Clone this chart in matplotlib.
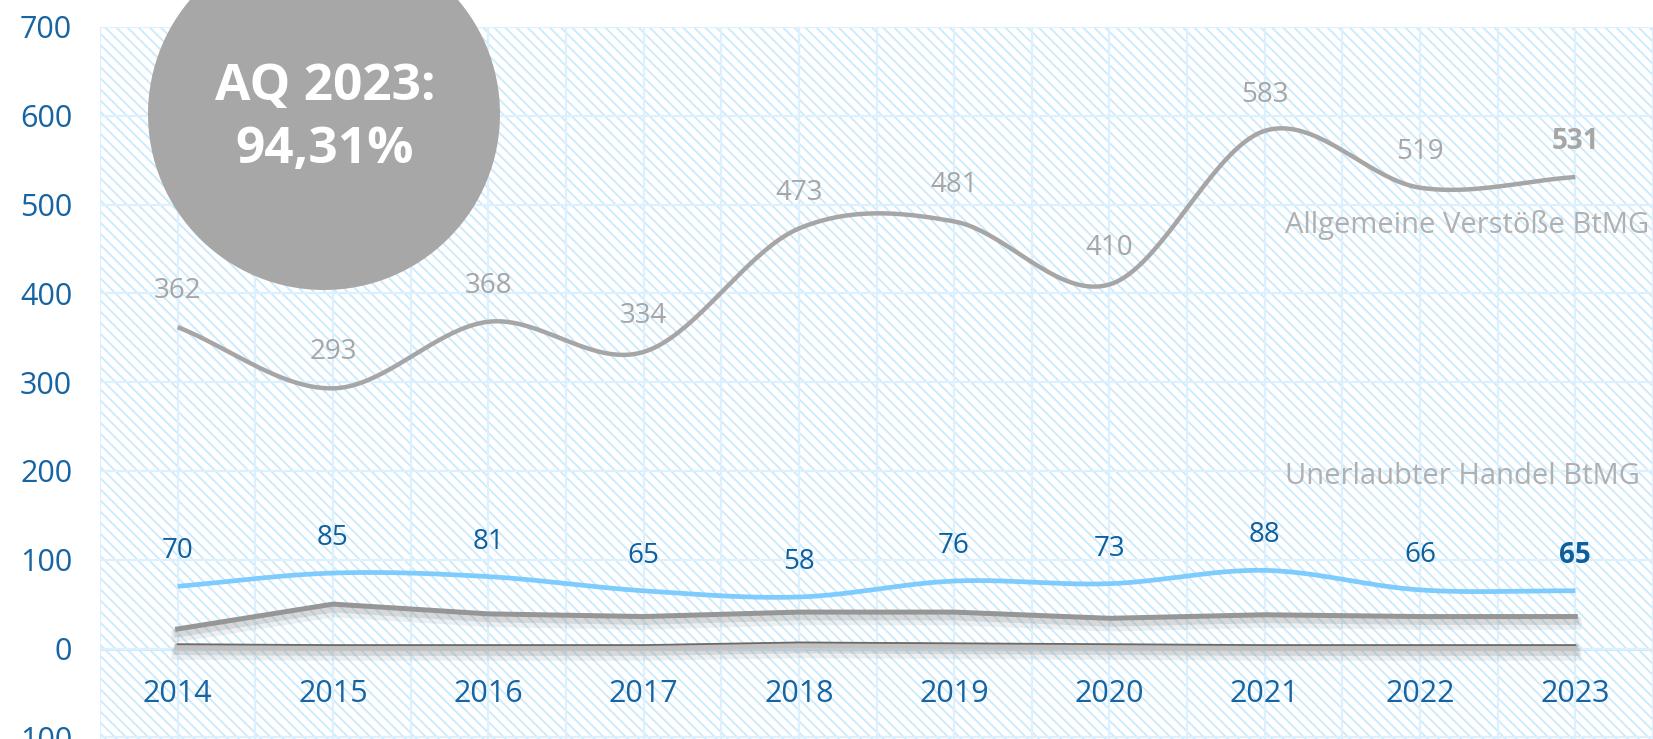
import numpy as np
import matplotlib
matplotlib.use("Agg")
import matplotlib.pyplot as plt
import matplotlib.patheffects as pe
from matplotlib.patches import Rectangle, Ellipse

# data
years = [2014, 2015, 2016, 2017, 2018, 2019, 2020, 2021, 2022, 2023]
allgemein = [362, 293, 368, 334, 473, 481, 410, 583, 519, 531]
handel = [70, 85, 81, 65, 58, 76, 73, 88, 66, 65]
sonstige = [22, 50, 39, 36, 41, 41, 34, 38, 36, 36]
klein = [2, 1, 1, 1, 4, 3, 2, 1, 1, 1]
y_ticks = [-100, 0, 100, 200, 300, 400, 500, 600, 700]
y_labels = ["100", "0", "100", "200", "300", "400", "500", "600", "700"]

W, H = 1653, 739
BLUE_TXT = "#1764a3"
GRAY = "#a6a6a6"

plt.rcParams["font.family"] = ["Open Sans", "DejaVu Sans"]
plt.rcParams["hatch.linewidth"] = 1.3


def catmull_rom(x, y, n=40):
    # smooth drawing path through the given points
    x = np.asarray(x, float)
    y = np.asarray(y, float)
    px = np.concatenate([[2 * x[0] - x[1]], x, [2 * x[-1] - x[-2]]])
    py = np.concatenate([[2 * y[0] - y[1]], y, [2 * y[-1] - y[-2]]])
    xs, ys = [], []
    t = np.linspace(0, 1, n, endpoint=False)
    for i in range(1, len(px) - 2):
        for p, out in ((px, xs), (py, ys)):
            p0, p1, p2, p3 = p[i - 1], p[i], p[i + 1], p[i + 2]
            out.extend(0.5 * ((2 * p1) + (-p0 + p2) * t
                              + (2 * p0 - 5 * p1 + 4 * p2 - p3) * t ** 2
                              + (-p0 + 3 * p1 - 3 * p2 + p3) * t ** 3))
    xs.append(x[-1])
    ys.append(y[-1])
    return np.array(xs), np.array(ys)


fig = plt.figure(figsize=(W / 100, H / 100), dpi=100)
fig.patch.set_facecolor("white")

ax_left = 100 / W
ax_top = 27 / H
ax = fig.add_axes([ax_left, 0, 1 - ax_left, 1 - ax_top])
ppu = (648.5 - 27) / 700.0
ax.set_ylim(-(H - 648.5) / ppu, 700)
ax.set_xlim(2013.5, 2013.5 + (W - 100) / 157.4)

# hatched background
ax.add_patch(Rectangle((0, 0), 1, 1, transform=ax.transAxes, facecolor="white",
                       edgecolor="#cbeafc", hatch="\\\\\\", lw=0, zorder=0))

ax.set_xticks(np.arange(2013.5, 2024, 0.5))
ax.set_xticklabels([])
ax.tick_params(axis="x", length=0)
ax.set_yticks(y_ticks)
ax.set_yticklabels(y_labels)
ax.tick_params(axis="y", length=0, pad=20, labelsize=22, labelcolor=BLUE_TXT)
ax.grid(True, color="#dcf1fd", lw=1.6, zorder=1)
ax.set_axisbelow(False)
for s in ax.spines.values():
    s.set_visible(False)
ax.axhline(0, color="#c9e8fb", lw=2, zorder=1.5)

shadow = [pe.SimpleLineShadow(offset=(0, -5), shadow_color="#808080", alpha=0.12, linewidth=9),
          pe.SimpleLineShadow(offset=(0, -3), shadow_color="#808080", alpha=0.2, linewidth=6),
          pe.Normal()]

# near zero series
ax.plot(years, klein, color="#c2c2c2", lw=4.5, zorder=3,
        path_effects=shadow[:2] + [pe.Normal(),
                                   pe.Stroke(offset=(0, 1.8), linewidth=1.3, foreground="#6a6a6a")])
# third series
ax.plot(years, sonstige, color="#969696", lw=3.6, zorder=3, path_effects=shadow)

# Handel
sx, sy = catmull_rom(years, handel)
ax.plot(sx, sy, color="#7ecbfd", lw=3.4, zorder=4, solid_capstyle="butt")
# Allgemeine
sx, sy = catmull_rom(years, allgemein)
ax.plot(sx, sy, color=GRAY, lw=3.2, zorder=4, solid_capstyle="butt")

for i, (yr, v) in enumerate(zip(years, allgemein)):
    ax.annotate(str(v), (yr, v), xytext=(0, 36), textcoords="offset pixels",
                ha="center", va="center", fontsize=20, color=GRAY,
                fontweight="bold" if i == len(years) - 1 else "normal", zorder=6)
for i, (yr, v) in enumerate(zip(years, handel)):
    ax.annotate(str(v), (yr, v), xytext=(0, 35), textcoords="offset pixels",
                ha="center", va="center", fontsize=20, color="#0e5f9e",
                fontweight="bold" if i == len(years) - 1 else "normal", zorder=6)

for yr in years:
    ax.text(yr, -51.5, str(yr), ha="center", va="center", fontsize=22,
            color=BLUE_TXT, zorder=6)

fig.text(1285 / W, 1 - 225 / H, "Allgemeine Verstöße BtMG", ha="left", va="center",
         fontsize=21, color="#b0b0b0")
fig.text(1285 / W, 1 - 477 / H, "Unerlaubter Handel BtMG", ha="left", va="center",
         fontsize=21, color="#b0b0b0")

# circle with rate
fig.add_artist(Ellipse((324 / W, 1 - 114 / H), 352 / W, 352 / H,
                       transform=fig.transFigure, facecolor="#a7a7a7", lw=0, zorder=5))
fig.text(325 / W, 1 - 100 / H, "AQ 2023:", ha="center", va="baseline", fontsize=37,
         fontweight="bold", color="white", zorder=6)
fig.text(325 / W, 1 - 163 / H, "94,31%", ha="center", va="baseline", fontsize=37,
         fontweight="bold", color="white", zorder=6)

fig.savefig("out.png", dpi=100)
